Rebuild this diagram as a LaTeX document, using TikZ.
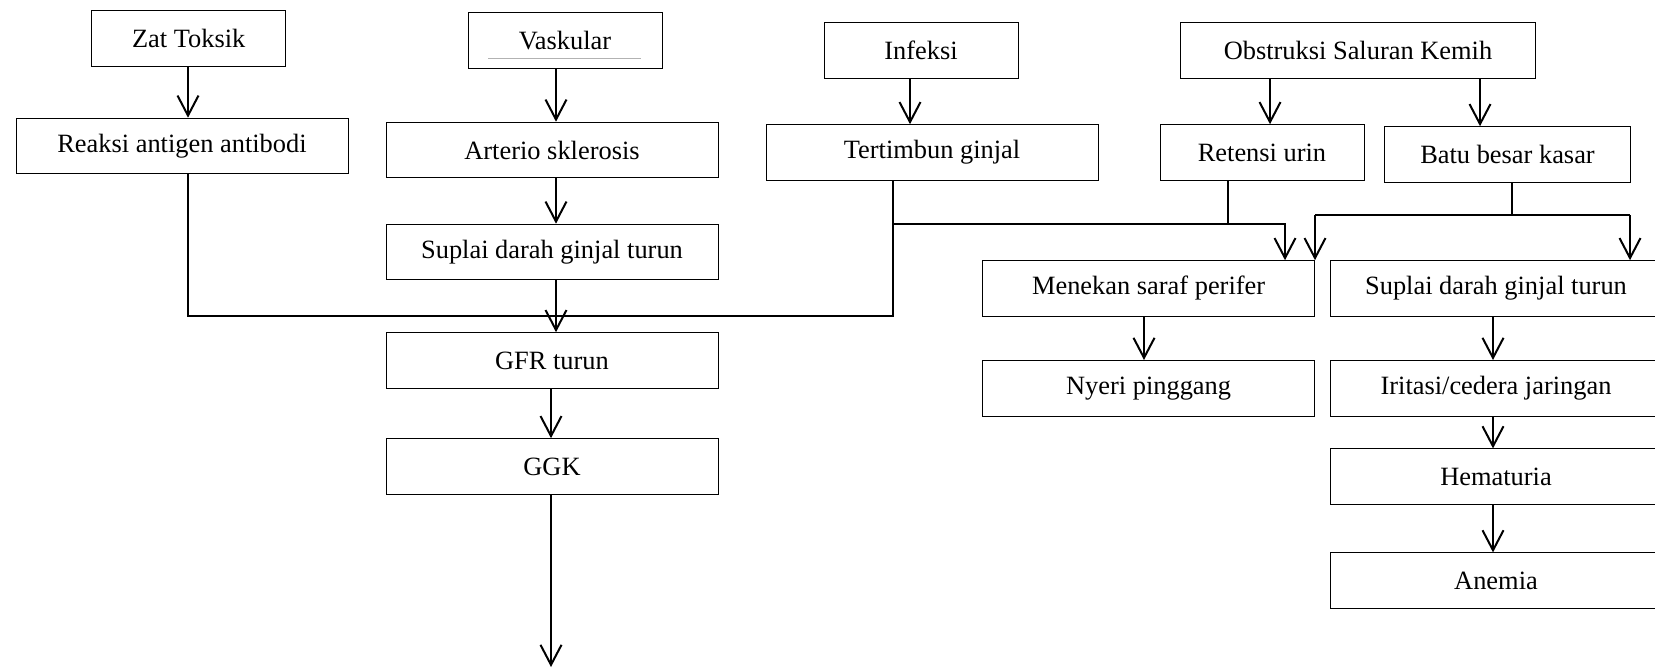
\documentclass[tikz,border=0pt]{standalone}
\usepackage{fontspec}
\setmainfont{Liberation Serif}
\usetikzlibrary{arrows.meta}

\begin{document}
\begin{tikzpicture}[x=0.5pt, y=-0.5pt,
    kotak/.style={rectangle, draw, line width=0.5pt, inner sep=0pt,
      minimum height=27.8pt, font=\fontsize{13.2}{15}\selectfont},
    lebar/.style={kotak, minimum width=166pt},
    sempit/.style={kotak, minimum width=97pt},
    >={Straight Barb[length=10pt,width=10.5pt,line width=1pt]}]

      \useasboundingbox (0,0) rectangle (1655,669);

      % kolom kiri
      \node [sempit]  (zat)       at (188.75,38.5) {Zat Toksik};
      \node [lebar]   (reaksi)    at (182,146)     {Reaksi antigen antibodi};

      \node [sempit]  (vaskular)  at (565,40.5)    {Vaskular};
      \node [lebar]   (arterio)   at (552,150)     {Arterio sklerosis};
      \node [lebar]   (suplai1)   at (552,252)     {Suplai darah ginjal turun};
      \node [lebar]   (gfr)       at (552,360.5)   {GFR turun};
      \node [lebar]   (ggk)       at (552,466.5)   {GGK};
      \draw [gray!60, very thin] (488,58) -- (641,58);

      \node [sempit]  (infeksi)   at (921,50.5)    {Infeksi};
      \node [lebar]   (tertimbun) at (932,152.5)   {Tertimbun ginjal};

      % kolom kanan
      \node [kotak, minimum width=177.75pt] (obstruksi) at (1358,50.5) {Obstruksi Saluran Kemih};
      \node [kotak, minimum width=102pt]    (retensi)   at (1262,152.5) {Retensi urin};
      \node [kotak, minimum width=123pt]    (batu)      at (1507.5,154.5) {Batu besar kasar};

      \node [lebar]   (menekan)   at (1148.6,288.5) {Menekan saraf perifer};
      \node [lebar]   (nyeri)     at (1148.6,388.3) {Nyeri pinggang};

      \node [lebar]   (suplai2)   at (1496,288.5)  {Suplai darah ginjal turun};
      \node [lebar]   (iritasi)   at (1496,388.3)  {Iritasi/cedera jaringan};
      \node [lebar]   (hematuria) at (1496,476.7)  {Hematuria};
      \node [lebar]   (anemia)    at (1496,580.7)  {Anemia};

      % titik bantu
      \coordinate (k1) at (188,0);
      \coordinate (k2) at (556,0);
      \coordinate (k2b) at (551,0);
      \coordinate (k3) at (910,0);
      \coordinate (kiri)   at (188,316);
      \coordinate (kanan)  at (893,316);
      \coordinate (cabang) at (893,224);
      \coordinate (turun)  at (1285,224);
      \coordinate (temu)   at (1228,224);
      \coordinate (o1)     at (1270,0);
      \coordinate (o2)     at (1480,0);
      \coordinate (bata)   at (1512,215);
      \coordinate (bkiri)  at (1315,215);
      \coordinate (bkanan) at (1630,215);
      \coordinate (k4)     at (1144,0);
      \coordinate (k5)     at (1493,0);
      \coordinate (akhir)  at (551,667);

      \draw [->,thick] (k1 |- zat.south) to (k1 |- reaksi.north);
      \draw [->,thick] (k2 |- vaskular.south) to (k2 |- arterio.north);
      \draw [->,thick] (k2 |- arterio.south) to (k2 |- suplai1.north);
      \draw [->,thick] (k2 |- suplai1.south) to (k2 |- gfr.north);
      \draw [->,thick] (k2b |- gfr.south) to (k2b |- ggk.north);
      \draw [->,thick] (k2b |- ggk.south) to (akhir);
      \draw [->,thick] (k3 |- infeksi.south) to (k3 |- tertimbun.north);

      \draw [thick] (k1 |- reaksi.south) -- (kiri) -- (kanan) -- (kanan |- tertimbun.south);
      \draw [->,thick] (cabang) -- (turun) -- (turun |- menekan.north);
      \draw [thick] (temu |- retensi.south) -- (temu);

      \draw [->,thick] (o1 |- obstruksi.south) to (o1 |- retensi.north);
      \draw [->,thick] (o2 |- obstruksi.south) to (o2 |- batu.north);

      \draw [thick] (bata |- batu.south) -- (bata);
      \draw [thick] (bkiri) -- (bkanan);
      \draw [->,thick] (bkiri) -- (bkiri |- menekan.north);
      \draw [->,thick] (bkanan) -- (bkanan |- suplai2.north);

      \draw [->,thick] (k4 |- menekan.south) to (k4 |- nyeri.north);
      \draw [->,thick] (k5 |- suplai2.south) to (k5 |- iritasi.north);
      \draw [->,thick] (k5 |- iritasi.south) to (k5 |- hematuria.north);
      \draw [->,thick] (k5 |- hematuria.south) to (k5 |- anemia.north);
    \end{tikzpicture}
\end{document}
